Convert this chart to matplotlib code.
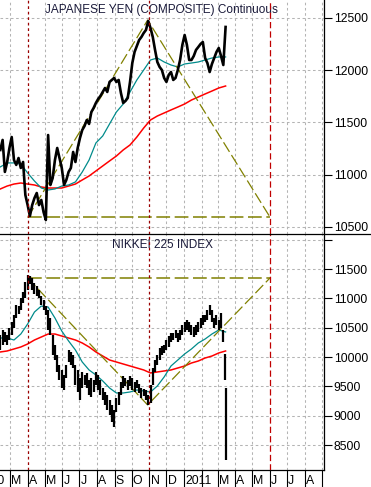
import matplotlib
matplotlib.use('Agg')
import matplotlib.pyplot as plt
import matplotlib.transforms as mtransforms
from matplotlib.lines import Line2D
import pandas as pd

plt.rcParams['font.family'] = ['Liberation Sans', 'DejaVu Sans']

# ---------------- data ----------------
# Japanese Yen futures (x10000), sampled every 4 days from 2010-02-12
yen_close = [11237, 11333, 11027, 11122, 11256, 11361, 11141, 11094, 11160, 11065,
             11122, 10806, 10710, 10605, 10710, 10777, 10825, 10710, 10758, 10643,
             10567, 11380, 10902, 10969, 11141, 11256, 11160, 11065, 10902, 10950,
             11027, 11065, 11218, 11122, 11256, 11352, 11428, 11466, 11524, 11486,
             11600, 11639, 11687, 11725, 11754, 11792, 11830, 11792, 11888, 11907,
             11926, 11888, 11907, 11782, 11687, 11706, 11735, 11888, 12069, 12175,
             12232, 12289, 12318, 12356, 12385, 12471, 12404, 12318, 12194, 12079,
             12031, 12002, 11926, 11888, 11955, 11983, 11907, 11926, 12002, 12098,
             12242, 12337, 12242, 12098, 12098, 12136, 12194, 12222, 12251, 12270,
             12117, 12069, 11983, 12060, 12117, 12175, 12213, 12136, 12050, 12414]

# moving averages, sampled every 12 days from 2010-02-12
yen_ma_short = [11075, 11113, 11113, 11103, 11017, 10940, 10873, 10854, 10864, 10892,
                10902, 10931, 11026, 11141, 11304, 11371, 11486, 11600, 11677, 11792,
                11907, 12002, 12098, 12117, 12079, 12050, 12031, 12060, 12069, 12079,
                12098, 12117, 12127, 12127]
yen_ma_long = [10864, 10892, 10911, 10921, 10911, 10902, 10883, 10873, 10873, 10873,
               10892, 10911, 10950, 10988, 11036, 11084, 11132, 11179, 11237, 11285,
               11361, 11447, 11524, 11562, 11591, 11620, 11648, 11677, 11715, 11744,
               11773, 11801, 11830, 11849]

# Nikkei 225 high / low, every 4 days from 2010-02-12, then 2011-03-14 and 2011-03-15
nk_high = [10375, 10460, 10425, 10375, 10495, 10600, 10715, 10885, 10870, 11005,
           11110, 11280, 11400, 11380, 11345, 11260, 11210, 11140, 11040, 10970,
           10870, 10800, 10665, 10375, 10205, 10035, 9865, 9780, 9695, 9865,
           10120, 10085, 10035, 9865, 9780, 9645, 9745, 9695, 9730, 9610,
           9645, 9610, 9745, 9695, 9610, 9475, 9405, 9355, 9270, 9180,
           9095, 9300, 9405, 9575, 9680, 9645, 9610, 9680, 9645, 9575,
           9610, 9540, 9475, 9455, 9440, 9355, 9525, 9815, 9950, 10035,
           10155, 10190, 10205, 10290, 10360, 10410, 10410, 10460, 10410, 10460,
           10545, 10600, 10630, 10600, 10545, 10510, 10545, 10600, 10665, 10715,
           10715, 10800, 10885, 10800, 10665, 10715, 10630, 10750, 10460,
           10050, 9475]
nk_low = [10120, 10205, 10255, 10205, 10290, 10375, 10495, 10665, 10735, 10800,
          10920, 11005, 11140, 11245, 11140, 11075, 11040, 11005, 10885, 10800,
          10715, 10460, 10375, 10035, 9950, 9745, 9610, 9470, 9440, 9645,
          9915, 9865, 9815, 9525, 9405, 9270, 9470, 9525, 9470, 9355,
          9320, 9405, 9525, 9440, 9355, 9270, 9180, 9095, 9010, 8895,
          8810, 9065, 9180, 9355, 9470, 9505, 9440, 9505, 9440, 9405,
          9470, 9390, 9300, 9335, 9270, 9180, 9215, 9525, 9745, 9865,
          9950, 10035, 10070, 10120, 10170, 10255, 10290, 10325, 10255, 10290,
          10375, 10425, 10460, 10425, 10375, 10340, 10375, 10425, 10495, 10545,
          10600, 10630, 10715, 10600, 10495, 10545, 10460, 10495, 10255,
          9600, 8245]
nk_ma_short = [10324, 10324, 10290, 10392, 10563, 10767, 10869, 10852, 10665, 10443,
               10273, 10120, 9915, 9779, 9694, 9592, 9472, 9387, 9387, 9404,
               9438, 9421, 9404, 9506, 9660, 9847, 9949, 10052, 10137, 10239,
               10307, 10392, 10461, 10427]
nk_ma_long = [10086, 10103, 10137, 10171, 10222, 10290, 10341, 10392, 10392, 10358,
              10324, 10290, 10239, 10171, 10086, 10017, 9949, 9915, 9881, 9847,
              9813, 9779, 9728, 9745, 9762, 9779, 9813, 9847, 9898, 9932,
              9983, 10017, 10069, 10103]

# trend lines (dates, values)
tl_dates = ['2010-04-01', '2010-10-29', '2011-06-01']
yen_trend = [10590, 12480, 10595]
yen_base = 10592
nk_trend = [11347, 9183, 11347]
nk_top = 11347

marker_dates = ['2010-04-01', '2010-11-01', '2011-06-01']

yen_ticks = [10500, 11000, 11500, 12000, 12500]
nk_ticks = [8500, 9000, 9500, 10000, 10500, 11000, 11500, 12000]
nk_tick_labels = ['8500', '9000', '9500', '10000', '10500', '11000', '11500', '']

month_starts = pd.date_range('2010-01-01', '2011-09-01', freq='MS')
month_labels = ['2010', '', 'M', 'A', 'M', 'J', 'J', 'A', 'S', 'O', 'N', 'D',
                '2011', '', 'M', 'A', 'M', 'J', 'J', 'A', '']

# ---------------- dates ----------------
yen_dates = pd.date_range('2010-02-12', periods=len(yen_close), freq='4D')
ma_dates = pd.date_range('2010-02-12', periods=len(yen_ma_short), freq='12D')
nk_dates = list(pd.date_range('2010-02-12', periods=len(nk_high) - 2, freq='4D')) + \
    [pd.Timestamp('2011-03-14'), pd.Timestamp('2011-03-15')]
tl = pd.to_datetime(tl_dates)

# ---------------- figure ----------------
W, H = 371, 487
fig = plt.figure(figsize=(W / 100, H / 100), dpi=100)
fig.patch.set_facecolor('white')
ax1 = fig.add_axes([0, 1 - 234 / H, 324 / W, 234 / H])
ax2 = fig.add_axes([0, 1 - 470 / H, 324 / W, 236 / H], sharex=ax1)

xmin = pd.Timestamp('2010-02-11 10:00')
xmax = pd.Timestamp('2011-09-04')

grid_kw = dict(color='#b4b4b4', lw=0.75, dashes=(2.5, 2.5), zorder=0)
OLIVE = '#808000'
TEAL = '#008b8b'
RED = '#ff0000'
DRED = '#9a0000'

for ax, ticks in ((ax1, yen_ticks), (ax2, nk_ticks)):
    for m in month_starts:
        if m.strftime('%Y-%m-%d') not in marker_dates:
            ax.axvline(m, **grid_kw)
    for t in ticks:
        ax.axhline(t, **grid_kw)

# top panel
ax1.plot(ma_dates, yen_ma_long, color=RED, lw=1.1, zorder=2)
ax1.plot(ma_dates, yen_ma_short, color=TEAL, lw=0.9, zorder=2)
ax1.plot(tl, yen_trend, color=OLIVE, lw=0.9, dashes=(9, 3), zorder=2)
ax1.plot([tl[0], tl[2]], [yen_base, yen_base], color=OLIVE, lw=1.1, dashes=(9, 3), zorder=2)
ax1.plot(yen_dates, yen_close, color='black', lw=1.9, zorder=3)

# bottom panel
ax2.plot(ma_dates, nk_ma_long, color=RED, lw=1.1, zorder=2)
ax2.plot(ma_dates, nk_ma_short, color=TEAL, lw=0.9, zorder=2)
ax2.plot(tl, nk_trend, color=OLIVE, lw=0.9, dashes=(9, 3), zorder=2)
ax2.plot([tl[0], tl[2]], [nk_top, nk_top], color=OLIVE, lw=1.1, dashes=(9, 3), zorder=2)
ax2.vlines(nk_dates, nk_low, nk_high, color='black', lw=1.6, zorder=3)

for ax in (ax1, ax2):
    for i, d in enumerate(pd.to_datetime(marker_dates)):
        ax.axvline(d, color=DRED if i < 2 else '#c00000', lw=0.9,
                   dashes=(2.2, 2.2) if i < 2 else (5, 2.5), zorder=5)

for ax, ticks in ((ax1, yen_ticks), (ax2, nk_ticks)):
    ax.yaxis.tick_right()
    ax.set_yticks(ticks)
    ax.tick_params(axis='y', direction='out', length=6, width=0.8, pad=1,
                   labelsize=8.8, colors='black')
    ax.spines['left'].set_visible(False)
    ax.spines['top'].set_visible(False)
    ax.spines['right'].set_linewidth(0.9)
    ax.set_facecolor('white')
ax1.set_yticklabels([str(t) for t in yen_ticks])
ax2.set_yticklabels(nk_tick_labels)
ax1.spines['bottom'].set_visible(False)
ax2.spines['bottom'].set_linewidth(0.9)

ax1.tick_params(axis='x', length=0, labelbottom=False)
ax2.set_xticks(month_starts)
ax2.tick_params(axis='x', direction='out', length=12.5, width=0.8, labelbottom=False)

# limits after ticks (set_xticks can widen the view)
ax1.set_xlim(xmin, xmax)
ax1.set_ylim(10433, 12672)
ax2.set_ylim(8074, 12097)

trans = mtransforms.blended_transform_factory(ax2.transData, ax2.transAxes)
for m, lab in zip(month_starts, month_labels):
    if lab:
        ax2.text(m + pd.Timedelta(days=2), -0.047, lab, transform=trans, ha='left',
                 va='center', fontsize=8.8, color='black', clip_on=False)

fig.add_artist(Line2D([0, 1], [1 - 234 / H, 1 - 234 / H], transform=fig.transFigure,
                      color='black', lw=0.9))

ax1.text(0.497, 0.957, 'JAPANESE YEN (COMPOSITE) Continuous', transform=ax1.transAxes,
         ha='center', va='center', fontsize=8.5, color='#1a1a3a', zorder=4)
ax2.text(0.5, 0.953, 'NIKKEI 225 INDEX', transform=ax2.transAxes,
         ha='center', va='center', fontsize=8.5, color='#1a1a3a', zorder=4)

fig.savefig('out.png', dpi=100, facecolor='white')
